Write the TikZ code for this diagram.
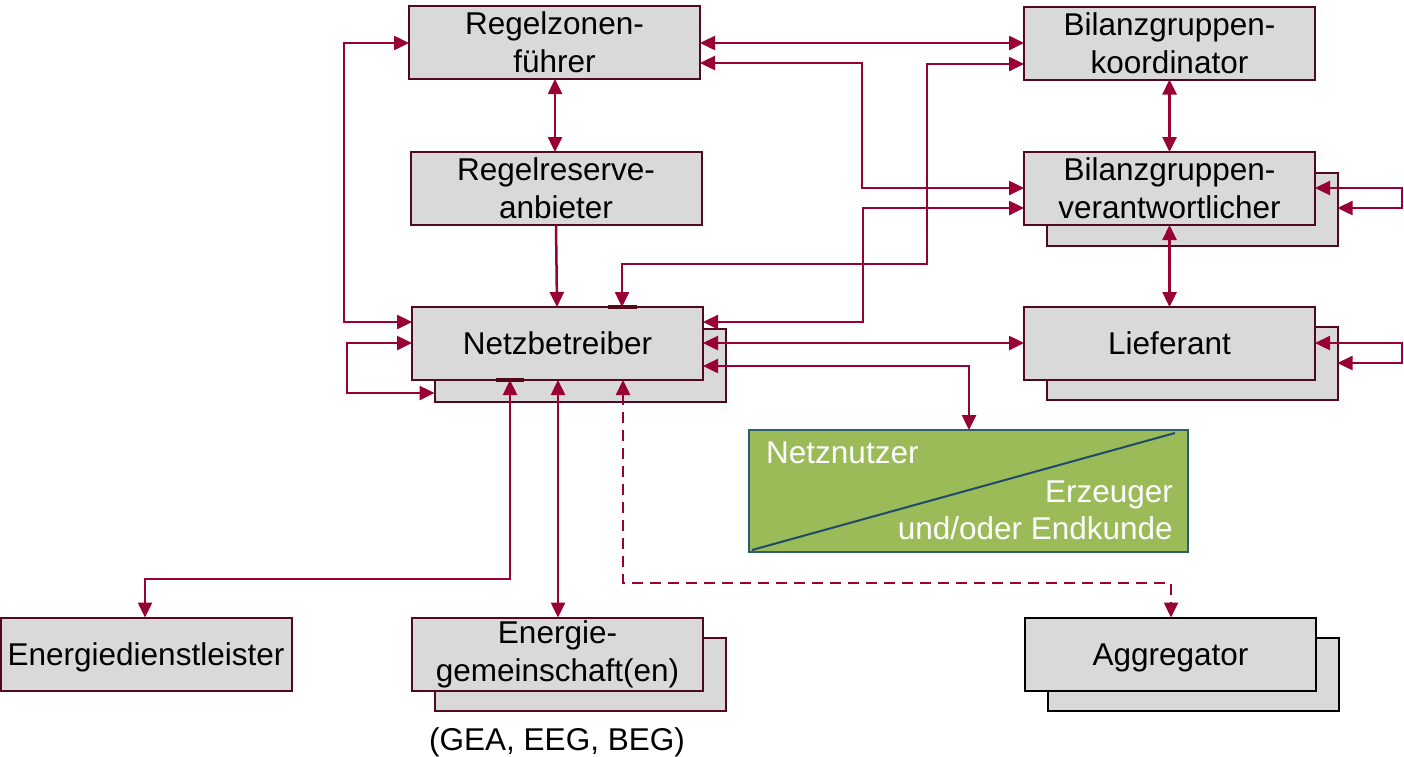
\documentclass[tikz,border=0pt]{standalone}
\usepackage{fontspec}
\setmainfont{Liberation Sans}
\usetikzlibrary{arrows.meta}
\definecolor{linkred}{HTML}{990033}
\definecolor{boxedge}{HTML}{4F0A1E}
\definecolor{boxfill}{HTML}{D9D9D9}
\definecolor{nnfill}{HTML}{9BBB59}
\definecolor{nnedge}{HTML}{2F5D6B}
\definecolor{nndiag}{HTML}{1F4A6B}
\begin{document}
\begin{tikzpicture}[x=1pt,y=-1pt,
  >={Triangle[length=15pt,width=14pt]},
  lbl/.style={font=\fontsize{31.5}{38}\selectfont},
  oneline/.style={text height=22.6pt, text depth=0pt},
  box/.style={lbl, draw=boxedge, fill=boxfill, line width=2pt, inner sep=0pt,
    outer sep=0pt, minimum width=291pt, minimum height=73pt, align=center},
  conn/.style={draw=linkred, line width=2.5pt},
  dashconn/.style={conn, dash pattern=on 11pt off 7pt}]
\useasboundingbox (0,0) rectangle (1404,756);

% back plates of the stacked roles
\node[box] (nbS) at (580,365) {};
\node[box] (bgvS) at (1192,209) {};
\node[box] (liefS) at (1192,363.5) {};
\node[box] (egS) at (580,674) {};
\node[box, draw=black] (aggS) at (1193,674) {};

% market roles
\node[box] (rzf) at (554.5,42.5) {Regelzonen-\\führer};
\node[box] (rra) at (556,188.5) {Regelreserve-\\anbieter};
\node[box, oneline] (nb) at (557.5,343.5) {Netzbetreiber};
\node[box] (bgk) at (1169.5,43) {Bilanzgruppen-\\koordinator};
\node[box] (bgv) at (1169.5,188.5) {Bilanzgruppen-\\verantwortlicher};
\node[box, oneline] (lief) at (1169.5,343.5) {Lieferant};
\node[box, oneline] (edl) at (146,654) {Energiedienstleister};
\node[box] (eg) at (557.5,654) {Energie-\\gemeinschaft(en)};
\node[box, oneline, draw=black] (agg) at (1170.5,654) {Aggregator};
\node[lbl, oneline, inner sep=0pt] (egnote) at (557,739) {(GEA, EEG, BEG)};

% grid user box split diagonally
\node[draw=nnedge, fill=nnfill, line width=2pt, inner sep=0pt, outer sep=0pt,
  minimum width=439pt, minimum height=122pt] (nn) at (968.5,491) {};
\draw[nndiag, line width=2pt] ([xshift=3pt,yshift=2pt]nn.south west)
  -- ([xshift=-13pt,yshift=-3pt]nn.north east);
\node[lbl, text=white, anchor=base west, inner sep=0pt] (nnA) at (766,463) {Netznutzer};
\node[lbl, text=white, anchor=base east, inner sep=0pt] (nnB) at (1173,502) {Erzeuger};
\node[lbl, text=white, anchor=base east, inner sep=0pt] (nnC) at (1173,539) {und/oder Endkunde};

% information flows
\draw[conn,<->] (rzf.east |- 0,43) -- (bgk.west |- 0,43);
\draw[conn,<->] (rzf.east |- 0,63) -- (862,63) -- (862,188) -- (bgv.west |- 0,188);
\draw[conn,<->] (nb.north -| 622,0) -- (622,264) -- (927,264) -- (927,64) -- (bgk.west |- 0,64);
\draw[conn,<->] (nb.east |- 0,322) -- (863,322) -- (863,208) -- (bgv.west |- 0,208);
\draw[conn,<->] (nb.east |- 0,343) -- (lief.west |- 0,343);
\draw[conn,<->] (nb.east |- 0,366) -- (969,366) -- (nn.north -| 969,0);
\draw[conn,<->] (bgk.south) -- (bgv.north);
\draw[conn,<->] (bgv.south) -- (lief.north);
\draw[conn,<->] (bgv.east |- 0,188) -- (1402,188) -- (1402,208) -- (bgvS.east |- 0,208);
\draw[conn,<->] (lief.east |- 0,343) -- (1402,343) -- (1402,363) -- (liefS.east |- 0,363);
\draw[conn,<->] (rzf.west |- 0,43) -- (344,43) -- (344,322) -- (nb.west |- 0,322);
\draw[conn,<->] (nb.west |- 0,343) -- (347,343) -- (347,393) -- (nbS.west |- 0,393);
\draw[conn,<->] (rzf.south -| 555,0) -- (rra.north -| 555,0);
\draw[conn,->] (rra.south -| 556,0) -- (nb.north -| 557,0);
\draw[conn,<->] (nb.south -| 510,0) -- (510,579) -- (145,579) -- (edl.north -| 145,0);
\draw[conn,<->] (nb.south -| 558,0) -- (eg.north -| 558,0);
\draw[dashconn,<->] (nb.south -| 623,0) -- (623,583) -- (1171,583) -- (agg.north -| 1171,0);

% heavier edge marks on the grid operator box
\draw[boxedge, line width=4pt] (nb.north -| 608,0) -- (nb.north -| 637,0);
\draw[boxedge, line width=4pt] (nb.south -| 496,0) -- (nb.south -| 524,0);
\end{tikzpicture}
\end{document}
